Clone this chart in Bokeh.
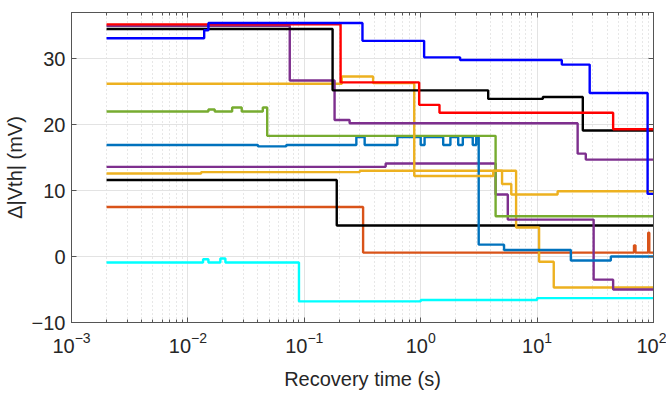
from bokeh.plotting import figure
from bokeh.models import LogAxis, LinearAxis, Range1d, FixedTicker, LogTicker
from bokeh.embed import file_html
from bokeh.resources import INLINE

# ---- data: step series (change times in s, levels in mV) ----
red_t = [0.002, 0.205, 0.97, 1.45, 45, 100]
red_y = [35.2, 26.4, 23.0, 21.8, 19.3]

blue_t = [0.002, 0.0138, 0.0150, 0.316, 1.07, 2.18, 16.3, 28.3, 89, 100]
blue_y = [33.1, 34.3, 35.4, 32.7, 30.2, 29.8, 29.1, 24.8, 9.5]

black1_t = [0.002, 0.175, 3.8, 11.2, 24.7, 100]
black1_y = [34.5, 25.2, 23.9, 24.2, 19.1]

purple1_t = [0.002, 0.075, 0.182, 0.245, 22.3, 26.2, 100]
purple1_y = [35.0, 26.7, 20.7, 20.2, 15.6, 14.7]

orangeA_t = [0.002, 0.21, 0.39, 0.88, 4.2, 5.0, 6.0, 15, 100]
orangeA_y = [26.2, 27.3, 26.3, 12.2, 13.0, 11.0, 9.4, 9.9]

green_t = [0.002, 0.015, 0.017, 0.024, 0.029, 0.044, 0.048, 4.4, 100]
green_y = [22.0, 22.3, 22.0, 22.6, 22.0, 22.6, 18.3, 6.1]

blue2_t = [0.002, 0.04, 0.07, 0.28, 0.33, 0.63, 1.0, 1.08, 1.56, 1.8, 2.1, 2.3,
           2.8, 3.0, 3.15, 5.2, 19.5, 43, 100]
blue2_y = [16.9, 16.7, 16.9, 18.1, 16.9, 18.1, 16.9, 18.1, 16.9, 18.1, 16.9, 18.1,
           16.9, 18.1, 1.8, 1.0, -0.6, 0.0]

purple2_t = [0.002, 0.5, 4.4, 5.6, 30.6, 45, 100]
purple2_y = [13.6, 14.1, 9.4, 5.6, -3.5, -5.0]

orangeB_t = [0.002, 0.013, 0.3, 6.6, 10.4, 13.9, 100]
orangeB_y = [12.6, 12.8, 13.0, 4.4, -0.8, -4.7]

black2_t = [0.002, 0.19, 100]
black2_y = [11.6, 4.7]

orangered_t = [0.002, 0.32, 68, 70, 90, 92, 100]
orangered_y = [7.5, 0.6, 1.7, 0.6, 3.6, 0.6]

cyan_t = [0.002, 0.0135, 0.0150, 0.019, 0.021, 0.09, 1.0, 10, 100]
cyan_y = [-0.9, -0.4, -0.9, -0.3, -0.9, -6.8, -6.6, -6.3]

series = [
    (orangered_t, orangered_y, "#D95319"),
    (black2_t, black2_y, "#000000"),
    (orangeB_t, orangeB_y, "#EDB120"),
    (purple2_t, purple2_y, "#7E2F8E"),
    (blue2_t, blue2_y, "#0072BD"),
    (green_t, green_y, "#77AC30"),
    (orangeA_t, orangeA_y, "#EDB120"),
    (purple1_t, purple1_y, "#7E2F8E"),
    (black1_t, black1_y, "#000000"),
    (red_t, red_y, "#FF0000"),
    (blue_t, blue_y, "#0000FF"),
    (cyan_t, cyan_y, "#00FFFF"),
]

y_ticks = [-10, 0, 10, 20, 30]

FONT = "Liberation Sans"
TXT = "#262626"
AX = "#555555"

p = figure(width=666, height=394, x_axis_type="log",
           x_range=Range1d(1e-3, 1e2), y_range=Range1d(-10, 37),
           output_backend="svg", toolbar_location=None,
           min_border_left=69, min_border_right=13, min_border_top=12,
           min_border_bottom=72)

for t, y, c in series:
    p.step(t, y + [y[-1]], mode="after", line_color=c, line_width=2.4)

p.xaxis.axis_label = "Recovery time (s)"
p.yaxis.axis_label = "\u0394|Vth| (mV)"
p.yaxis.ticker = FixedTicker(ticks=y_ticks)

for ax in [p.xaxis[0], p.yaxis[0]]:
    ax.axis_label_text_font = FONT
    ax.axis_label_text_font_size = "20px"
    ax.axis_label_text_font_style = "normal"
    ax.axis_label_text_color = TXT
    ax.major_label_text_font = FONT
    ax.major_label_text_font_size = "20px"
    ax.major_label_text_color = TXT
    ax.axis_line_color = AX
    ax.major_tick_line_color = AX
    ax.minor_tick_line_color = AX
    ax.major_tick_in = 5
    ax.major_tick_out = 0
    ax.minor_tick_in = 3
    ax.minor_tick_out = 0

p.xaxis.major_label_standoff = 9
p.xaxis.axis_label_standoff = 12
p.yaxis.major_label_standoff = 6
p.yaxis.axis_label_standoff = 3
p.yaxis.minor_tick_line_color = None

top = LogAxis(ticker=LogTicker(num_minor_ticks=10), major_label_text_font_size="0px",
              axis_line_color=AX, major_tick_line_color=AX,
              minor_tick_line_color=AX, major_tick_in=5, major_tick_out=0,
              minor_tick_in=3, minor_tick_out=0)
top.major_label_text_color = None
p.add_layout(top, "above")
right = LinearAxis(ticker=FixedTicker(ticks=y_ticks), axis_line_color=AX,
                   major_tick_line_color=AX, minor_tick_line_color=None,
                   major_tick_in=5, major_tick_out=0)
right.major_label_text_color = None
right.major_label_text_font_size = "0px"
p.add_layout(right, "right")

p.xgrid.grid_line_color = "#e3e3e3"
p.ygrid.grid_line_color = "#e3e3e3"
p.xgrid.minor_grid_line_color = "#cfcfcf"
p.xgrid.minor_grid_line_dash = "1 3"
p.outline_line_color = AX

open("out.html", "w").write(file_html(p, INLINE))
